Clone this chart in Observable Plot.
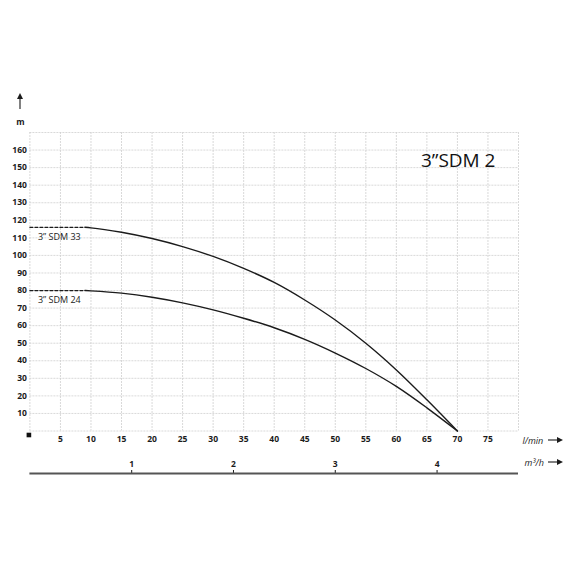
<!DOCTYPE html>
<html><head><meta charset="utf-8">
<script src="https://cdn.jsdelivr.net/npm/d3@7"></script>
<script src="https://cdn.jsdelivr.net/npm/@observablehq/plot@0.6"></script>
<style>
body{margin:0;background:#fff}
#chart{position:relative;width:570px;height:570px}
svg{font-family:"Open Sans",sans-serif}
</style>
</head><body><div id="chart"></div>
<script>
// Data
const flowLpm   = [9, 10, 15, 20, 25, 30, 35, 40, 45, 50, 55, 60, 65, 70];
const headSDM33 = [116, 115.7, 113.2, 109.6, 105.0, 99.4, 92.6, 84.6, 74.6, 63.2, 50.0, 34.8, 17.8, 0];
const headSDM24 = [80, 79.8, 78.5, 76.2, 73.0, 69.0, 64.2, 58.8, 52.2, 44.4, 35.6, 25.4, 13.2, 0];
const shutoffFlow = [0, 9];            // dashed extension toward zero flow
const seriesNames = ["3” SDM 33", "3” SDM 24"];
const lpmTicks  = [5, 10, 15, 20, 25, 30, 35, 40, 45, 50, 55, 60, 65, 70, 75];
const headTicks = [10, 20, 30, 40, 50, 60, 70, 80, 90, 100, 110, 120, 130, 140, 150, 160];
const m3hTicks  = [1, 2, 3, 4];
const titleText = "3”SDM 2";
const xUnit = "l/min", x2Unit = "m³/h", yUnit = "m";

const curves = [
  {name: seriesNames[0], head: headSDM33},
  {name: seriesNames[1], head: headSDM24}
];
const solidRows = curves.flatMap(c => flowLpm.map((q, i) => ({name: c.name, q, h: c.head[i]})));
const dashRows  = curves.flatMap(c => shutoffFlow.map(q => ({name: c.name, q, h: c.head[0]})));
const labelRows = curves.map(c => ({name: c.name, q: shutoffFlow[0], h: c.head[0]}));
const lpmPerM3h = 1000 / 60;

const ink = "#1b1b1b";
const gridStyle = {stroke: "#cfcfcf", strokeOpacity: 1, strokeDasharray: "2,1", strokeWidth: 0.8};

const chart = Plot.plot({
  width: 570, height: 570,
  marginTop: 132, marginBottom: 139.5, marginLeft: 29.4, marginRight: 52,
  x: {domain: [0, 80]},
  y: {domain: [0, 170]},
  style: {fontFamily: "'Open Sans', sans-serif", color: ink, background: "white"},
  marks: [
    Plot.gridX(d3.range(0, 81, 5), gridStyle),
    Plot.gridY(d3.range(0, 171, 10), gridStyle),
    Plot.axisY(headTicks, {anchor: "left", tickSize: 0, tickPadding: 3, label: null, fontSize: 8.5, fontWeight: "bold"}),
    Plot.axisX(lpmTicks, {anchor: "bottom", tickSize: 0, tickPadding: 5, label: null, fontSize: 8.5, fontWeight: "bold"}),
    Plot.axisX(m3hTicks.map(v => v * lpmPerM3h), {anchor: "top", dy: 341, tickSize: 4, tickPadding: 3, label: null,
      fontSize: 8.5, fontWeight: "bold", tickFormat: d => String(Math.round(d / lpmPerM3h))}),
    Plot.ruleY([0], {dy: 42.5, stroke: "#555", strokeWidth: 2}),
    Plot.line(dashRows, {x: "q", y: "h", z: "name", stroke: ink, strokeWidth: 1.3, strokeDasharray: "3,2"}),
    Plot.line(solidRows, {x: "q", y: "h", z: "name", stroke: ink, strokeWidth: 1.4, curve: "monotone-x"}),
    Plot.text(labelRows, {x: "q", y: "h", text: "name", dx: 8, dy: 10, textAnchor: "start", fontSize: 9, fill: ink}),
    Plot.dot([{q: 0, h: 0}], {x: "q", y: "h", symbol: "square", r: 2.6, fill: "#111", stroke: "none", dx: -1, dy: 4}),
    Plot.text([titleText], {frameAnchor: "top-right", dx: -23, dy: 28, textAnchor: "end", lineAnchor: "middle", fontSize: 19, fill: "#111"}),
    Plot.text([yUnit], {frameAnchor: "top-left", dx: -9.4, dy: -10, textAnchor: "middle", lineAnchor: "middle", fontSize: 8.5, fontWeight: "bold", fill: ink}),
    Plot.text([xUnit], {frameAnchor: "bottom-right", dx: 4, dy: 10, textAnchor: "start", lineAnchor: "middle", fontSize: 9, fontStyle: "italic", fill: ink}),
    Plot.text([x2Unit], {frameAnchor: "bottom-right", dx: 6, dy: 32, textAnchor: "start", lineAnchor: "middle", fontSize: 9, fontStyle: "italic", fill: ink})
  ]
});
document.getElementById("chart").append(chart);

// decorative arrows next to the axis units
const svg = d3.select(chart);
function arrow(x1, y1, x2, y2) {
  const ang = Math.atan2(y2 - y1, x2 - x1), L = 6, W = 3;
  const bx = x2 - L * Math.cos(ang), by = y2 - L * Math.sin(ang);
  svg.append("line").attr("x1", x1).attr("y1", y1).attr("x2", bx).attr("y2", by)
    .attr("stroke", ink).attr("stroke-width", 1.1);
  svg.append("path").attr("fill", ink).attr("d",
    `M${x2},${y2}L${bx - W * Math.sin(ang)},${by + W * Math.cos(ang)}L${bx + W * Math.sin(ang)},${by - W * Math.cos(ang)}Z`);
}
arrow(20, 109, 20, 93);
arrow(548, 440, 563, 440);
arrow(548, 462, 563, 462);
</script>
</body></html>
